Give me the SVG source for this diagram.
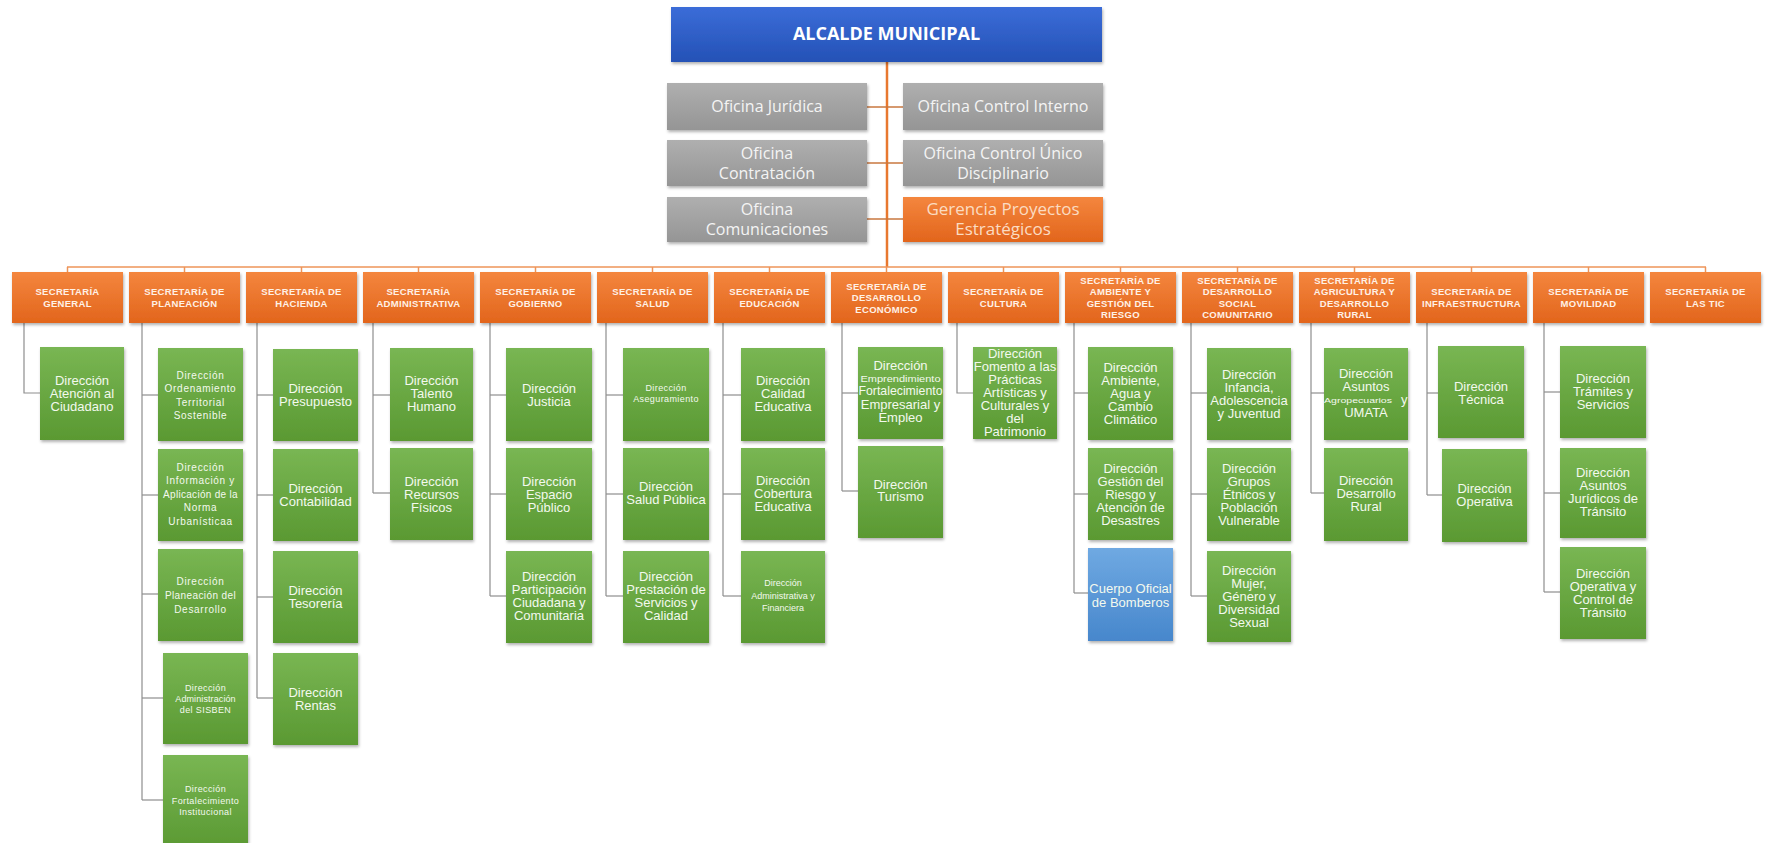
<svg xmlns="http://www.w3.org/2000/svg" width="1769" height="843" viewBox="0 0 1769 843">
<defs>
<linearGradient id="gBlue" x1="0" y1="0" x2="0" y2="1"><stop offset="0" stop-color="#3B6DD8"/><stop offset="1" stop-color="#2451B6"/></linearGradient>
<linearGradient id="gGrey" x1="0" y1="0" x2="0" y2="1"><stop offset="0" stop-color="#AFAFAF"/><stop offset="1" stop-color="#959595"/></linearGradient>
<linearGradient id="gOrange" x1="0" y1="0" x2="0" y2="1"><stop offset="0" stop-color="#F4863E"/><stop offset="1" stop-color="#E2651C"/></linearGradient>
<linearGradient id="gGreen" x1="0" y1="0" x2="0" y2="1"><stop offset="0" stop-color="#79B653"/><stop offset="1" stop-color="#5A9932"/></linearGradient>
<linearGradient id="gSky" x1="0" y1="0" x2="0" y2="1"><stop offset="0" stop-color="#6FA9E2"/><stop offset="1" stop-color="#4787CC"/></linearGradient>
<filter id="sh" x="-10%" y="-10%" width="130%" height="130%"><feDropShadow dx="1" dy="2" stdDeviation="1.5" flood-color="#000" flood-opacity="0.3"/></filter>
</defs>
<style>
rect{filter:url(#sh)}
.top rect{fill:url(#gBlue)}
.grey rect{fill:url(#gGrey)}
.orange rect{fill:url(#gOrange)}
.green rect{fill:url(#gGreen)}
.sky rect{fill:url(#gSky)}
text{font-family:"Liberation Sans",Arial,sans-serif;text-anchor:middle}
.top text{font-family:"Open Sans","Liberation Sans",sans-serif;font-weight:bold;font-size:18px;fill:#FFFFFF}
.grey text{font-family:"Open Sans","Liberation Sans",sans-serif;font-size:16px;fill:#F4F4F4}
.ger text{font-family:"Open Sans","Liberation Sans",sans-serif;font-size:17px;fill:#FBDCC2}
.sec text{font-weight:bold;font-size:9.5px;fill:#FFF1E6;letter-spacing:0.3px}
.green text,.sky text{font-size:13px;fill:#F3F9EE}
.green text.s10{font-size:10px;letter-spacing:0.7px}
.green text.s9{font-size:9px;letter-spacing:0.4px}
.conn line,.conn polyline{fill:none}
.trunk{stroke:#E8782F;stroke-width:2.5}
.oc{stroke:#C9773F;stroke-width:1.5}
.bus{stroke:#EE9459;stroke-width:1.5}
.gc{stroke:#8E8E8E;stroke-width:1.2}
</style>

<g id="connectors" class="conn">
<line class="trunk" x1="887" y1="62" x2="887" y2="267"/>
<line class="oc" x1="867" y1="107" x2="903" y2="107"/>
<line class="oc" x1="867" y1="163" x2="903" y2="163"/>
<line class="oc" x1="867" y1="219" x2="903" y2="219"/>
<line class="bus" x1="67" y1="267" x2="1706" y2="267"/>
<line class="bus" x1="67.5" y1="267" x2="67.5" y2="272"/>
<line class="bus" x1="184.5" y1="267" x2="184.5" y2="272"/>
<line class="bus" x1="301.5" y1="267" x2="301.5" y2="272"/>
<line class="bus" x1="418.5" y1="267" x2="418.5" y2="272"/>
<line class="bus" x1="535.5" y1="267" x2="535.5" y2="272"/>
<line class="bus" x1="652.5" y1="267" x2="652.5" y2="272"/>
<line class="bus" x1="769.5" y1="267" x2="769.5" y2="272"/>
<line class="bus" x1="886.5" y1="267" x2="886.5" y2="272"/>
<line class="bus" x1="1003.5" y1="267" x2="1003.5" y2="272"/>
<line class="bus" x1="1120.5" y1="267" x2="1120.5" y2="272"/>
<line class="bus" x1="1237.5" y1="267" x2="1237.5" y2="272"/>
<line class="bus" x1="1354.5" y1="267" x2="1354.5" y2="272"/>
<line class="bus" x1="1471.5" y1="267" x2="1471.5" y2="272"/>
<line class="bus" x1="1588.5" y1="267" x2="1588.5" y2="272"/>
<line class="bus" x1="1705.5" y1="267" x2="1705.5" y2="272"/>
<polyline class="gc" points="24,323 24,393 40,393"/>
<line class="gc" x1="142" y1="323" x2="142" y2="800"/>
<line class="gc" x1="142" y1="395" x2="158" y2="395"/>
<line class="gc" x1="142" y1="495" x2="158" y2="495"/>
<line class="gc" x1="142" y1="594" x2="158" y2="594"/>
<line class="gc" x1="142" y1="698" x2="163" y2="698"/>
<line class="gc" x1="142" y1="800" x2="163" y2="800"/>
<line class="gc" x1="257" y1="323" x2="257" y2="698"/>
<line class="gc" x1="257" y1="395" x2="273" y2="395"/>
<line class="gc" x1="257" y1="495" x2="273" y2="495"/>
<line class="gc" x1="257" y1="597" x2="273" y2="597"/>
<line class="gc" x1="257" y1="698" x2="273" y2="698"/>
<line class="gc" x1="373" y1="323" x2="373" y2="493"/>
<line class="gc" x1="373" y1="395" x2="390" y2="395"/>
<line class="gc" x1="373" y1="493" x2="390" y2="493"/>
<line class="gc" x1="490" y1="323" x2="490" y2="596"/>
<line class="gc" x1="490" y1="395" x2="506" y2="395"/>
<line class="gc" x1="490" y1="494" x2="506" y2="494"/>
<line class="gc" x1="490" y1="596" x2="506" y2="596"/>
<line class="gc" x1="606" y1="323" x2="606" y2="596"/>
<line class="gc" x1="606" y1="395" x2="623" y2="395"/>
<line class="gc" x1="606" y1="494" x2="623" y2="494"/>
<line class="gc" x1="606" y1="596" x2="623" y2="596"/>
<line class="gc" x1="723" y1="323" x2="723" y2="596"/>
<line class="gc" x1="723" y1="395" x2="741" y2="395"/>
<line class="gc" x1="723" y1="494" x2="741" y2="494"/>
<line class="gc" x1="723" y1="596" x2="741" y2="596"/>
<line class="gc" x1="842" y1="323" x2="842" y2="491"/>
<line class="gc" x1="842" y1="393" x2="858" y2="393"/>
<line class="gc" x1="842" y1="491" x2="858" y2="491"/>
<polyline class="gc" points="957,323 957,393 973,393"/>
<line class="gc" x1="1074" y1="323" x2="1074" y2="593"/>
<line class="gc" x1="1074" y1="393" x2="1088" y2="393"/>
<line class="gc" x1="1074" y1="494" x2="1088" y2="494"/>
<line class="gc" x1="1074" y1="593" x2="1088" y2="593"/>
<line class="gc" x1="1191" y1="323" x2="1191" y2="596"/>
<line class="gc" x1="1191" y1="393" x2="1207" y2="393"/>
<line class="gc" x1="1191" y1="494" x2="1207" y2="494"/>
<line class="gc" x1="1191" y1="596" x2="1207" y2="596"/>
<line class="gc" x1="1311" y1="323" x2="1311" y2="493"/>
<line class="gc" x1="1311" y1="393" x2="1324" y2="393"/>
<line class="gc" x1="1311" y1="493" x2="1324" y2="493"/>
<line class="gc" x1="1427" y1="323" x2="1427" y2="495"/>
<line class="gc" x1="1427" y1="393" x2="1438" y2="393"/>
<line class="gc" x1="1427" y1="495" x2="1442" y2="495"/>
<line class="gc" x1="1544" y1="323" x2="1544" y2="592"/>
<line class="gc" x1="1544" y1="392" x2="1560" y2="392"/>
<line class="gc" x1="1544" y1="493" x2="1560" y2="493"/>
<line class="gc" x1="1544" y1="592" x2="1560" y2="592"/>
</g>

<g id="alcalde" class="top"><rect x="671" y="7" width="431" height="55"/><text x="886.5" y="40">ALCALDE MUNICIPAL</text></g>

<g id="of-juridica" class="grey"><rect x="667" y="83" width="200" height="47"/><text x="767" y="112">Oficina Jurídica</text></g>
<g id="of-control-interno" class="grey"><rect x="903" y="83" width="200" height="47"/><text x="1003" y="112">Oficina Control Interno</text></g>
<g id="of-contratacion" class="grey"><rect x="667" y="140" width="200" height="46"/><text x="767" y="159">Oficina</text><text x="767" y="179">Contratación</text></g>
<g id="of-control-disciplinario" class="grey"><rect x="903" y="140" width="200" height="46"/><text x="1003" y="159">Oficina Control Único</text><text x="1003" y="179">Disciplinario</text></g>
<g id="of-comunicaciones" class="grey"><rect x="667" y="197" width="200" height="45"/><text x="767" y="215">Oficina</text><text x="767" y="235">Comunicaciones</text></g>
<g id="gerencia" class="orange ger"><rect x="903" y="197" width="200" height="45"/><text x="1003" y="215">Gerencia Proyectos</text><text x="1003" y="235">Estratégicos</text></g>

<g id="sec-general" class="orange sec"><rect x="12" y="272" width="111" height="51"/><text x="67.5" y="294.5">SECRETARÍA</text><text x="67.5" y="306.5">GENERAL</text></g>
<g id="sec-planeacion" class="orange sec"><rect x="129" y="272" width="111" height="51"/><text x="184.5" y="294.5">SECRETARÍA DE</text><text x="184.5" y="306.5">PLANEACIÓN</text></g>
<g id="sec-hacienda" class="orange sec"><rect x="246" y="272" width="111" height="51"/><text x="301.5" y="294.5">SECRETARÍA DE</text><text x="301.5" y="306.5">HACIENDA</text></g>
<g id="sec-administrativa" class="orange sec"><rect x="363" y="272" width="111" height="51"/><text x="418.5" y="294.5">SECRETARÍA</text><text x="418.5" y="306.5">ADMINISTRATIVA</text></g>
<g id="sec-gobierno" class="orange sec"><rect x="480" y="272" width="111" height="51"/><text x="535.5" y="294.5">SECRETARÍA DE</text><text x="535.5" y="306.5">GOBIERNO</text></g>
<g id="sec-salud" class="orange sec"><rect x="597" y="272" width="111" height="51"/><text x="652.5" y="294.5">SECRETARÍA DE</text><text x="652.5" y="306.5">SALUD</text></g>
<g id="sec-educacion" class="orange sec"><rect x="714" y="272" width="111" height="51"/><text x="769.5" y="294.5">SECRETARÍA DE</text><text x="769.5" y="306.5">EDUCACIÓN</text></g>
<g id="sec-des-economico" class="orange sec"><rect x="831" y="272" width="111" height="51"/><text x="886.5" y="289.5">SECRETARÍA DE</text><text x="886.5" y="301">DESARROLLO</text><text x="886.5" y="312.5">ECONÓMICO</text></g>
<g id="sec-cultura" class="orange sec"><rect x="948" y="272" width="111" height="51"/><text x="1003.5" y="294.5">SECRETARÍA DE</text><text x="1003.5" y="306.5">CULTURA</text></g>
<g id="sec-ambiente" class="orange sec"><rect x="1065" y="272" width="111" height="51"/><text x="1120.5" y="283.5">SECRETARÍA DE</text><text x="1120.5" y="295">AMBIENTE Y</text><text x="1120.5" y="306.5">GESTIÓN DEL</text><text x="1120.5" y="318">RIESGO</text></g>
<g id="sec-des-social" class="orange sec"><rect x="1182" y="272" width="111" height="51"/><text x="1237.5" y="283.5">SECRETARÍA DE</text><text x="1237.5" y="295">DESARROLLO</text><text x="1237.5" y="306.5">SOCIAL</text><text x="1237.5" y="318">COMUNITARIO</text></g>
<g id="sec-agricultura" class="orange sec"><rect x="1299" y="272" width="111" height="51"/><text x="1354.5" y="283.5">SECRETARÍA DE</text><text x="1354.5" y="295">AGRICULTURA Y</text><text x="1354.5" y="306.5">DESARROLLO</text><text x="1354.5" y="318">RURAL</text></g>
<g id="sec-infraestructura" class="orange sec"><rect x="1416" y="272" width="111" height="51"/><text x="1471.5" y="294.5">SECRETARÍA DE</text><text x="1471.5" y="306.5">INFRAESTRUCTURA</text></g>
<g id="sec-movilidad" class="orange sec"><rect x="1533" y="272" width="111" height="51"/><text x="1588.5" y="294.5">SECRETARÍA DE</text><text x="1588.5" y="306.5">MOVILIDAD</text></g>
<g id="sec-tic" class="orange sec"><rect x="1650" y="272" width="111" height="51"/><text x="1705.5" y="294.5">SECRETARÍA DE</text><text x="1705.5" y="306.5">LAS TIC</text></g>

<g id="dir-atencion" class="green"><rect x="40" y="347" width="84" height="93"/><text x="82" y="384.5">Dirección</text><text x="82" y="397.5">Atención al</text><text x="82" y="410.5">Ciudadano</text></g>
<g id="dir-ordenamiento" class="green"><rect x="158" y="348" width="85" height="93"/><text class="s10" x="200.5" y="378.5">Dirección</text><text class="s10" x="200.5" y="392">Ordenamiento</text><text class="s10" x="200.5" y="405.5">Territorial</text><text class="s10" x="200.5" y="419">Sostenible</text></g>
<g id="dir-informacion" class="green"><rect x="158" y="449" width="85" height="92"/><text class="s10" x="200.5" y="470.5">Dirección</text><text class="s10" x="200.5" y="484">Información y</text><text class="s10" x="200.5" y="497.5" style="letter-spacing:0.3px">Aplicación de la</text><text class="s10" x="200.5" y="511">Norma</text><text class="s10" x="200.5" y="524.5">Urbanísticaa</text></g>
<g id="dir-planeacion" class="green"><rect x="158" y="549" width="85" height="92"/><text class="s10" x="200.5" y="584.5">Dirección</text><text class="s10" x="200.5" y="598.5" style="letter-spacing:0.4px">Planeación del</text><text class="s10" x="200.5" y="612.5">Desarrollo</text></g>
<g id="dir-sisben" class="green"><rect x="163" y="653" width="85" height="91"/><text class="s9" x="205.5" y="691">Dirección</text><text class="s9" x="205.5" y="702" style="letter-spacing:0.1px">Administración</text><text class="s9" x="205.5" y="713">del SISBEN</text></g>
<g id="dir-fortalecimiento" class="green"><rect x="163" y="755" width="85" height="95"/><text class="s9" x="205.5" y="792">Dirección</text><text class="s9" x="205.5" y="803.5">Fortalecimiento</text><text class="s9" x="205.5" y="815">Institucional</text></g>
<g id="dir-presupuesto" class="green"><rect x="273" y="349" width="85" height="92"/><text x="315.5" y="392.5">Dirección</text><text x="315.5" y="405.5">Presupuesto</text></g>
<g id="dir-contabilidad" class="green"><rect x="273" y="449" width="85" height="92"/><text x="315.5" y="492.5">Dirección</text><text x="315.5" y="505.5">Contabilidad</text></g>
<g id="dir-tesoreria" class="green"><rect x="273" y="551" width="85" height="92"/><text x="315.5" y="594.5">Dirección</text><text x="315.5" y="607.5">Tesorería</text></g>
<g id="dir-rentas" class="green"><rect x="273" y="653" width="85" height="92"/><text x="315.5" y="696.5">Dirección</text><text x="315.5" y="709.5">Rentas</text></g>
<g id="dir-talento" class="green"><rect x="390" y="348" width="83" height="93"/><text x="431.5" y="384.5">Dirección</text><text x="431.5" y="397.5">Talento</text><text x="431.5" y="410.5">Humano</text></g>
<g id="dir-recursos" class="green"><rect x="390" y="448" width="83" height="92"/><text x="431.5" y="485.5">Dirección</text><text x="431.5" y="498.5">Recursos</text><text x="431.5" y="511.5">Físicos</text></g>
<g id="dir-justicia" class="green"><rect x="506" y="348" width="86" height="93"/><text x="549" y="392.5">Dirección</text><text x="549" y="405.5">Justicia</text></g>
<g id="dir-espacio" class="green"><rect x="506" y="448" width="86" height="92"/><text x="549" y="485.5">Dirección</text><text x="549" y="498.5">Espacio</text><text x="549" y="511.5">Público</text></g>
<g id="dir-participacion" class="green"><rect x="506" y="551" width="86" height="92"/><text x="549" y="581">Dirección</text><text x="549" y="594">Participación</text><text x="549" y="607">Ciudadana  y</text><text x="549" y="620">Comunitaria</text></g>
<g id="dir-aseguramiento" class="green"><rect x="623" y="348" width="86" height="93"/><text class="s9" x="666" y="391">Dirección</text><text class="s9" x="666" y="402">Aseguramiento</text></g>
<g id="dir-salud-publica" class="green"><rect x="623" y="448" width="86" height="92"/><text x="666" y="490.5">Dirección</text><text x="666" y="503.5">Salud Pública</text></g>
<g id="dir-prestacion" class="green"><rect x="623" y="551" width="86" height="92"/><text x="666" y="581">Dirección</text><text x="666" y="594">Prestación de</text><text x="666" y="607">Servicios y</text><text x="666" y="620">Calidad</text></g>
<g id="dir-calidad" class="green"><rect x="741" y="348" width="84" height="93"/><text x="783" y="384.5">Dirección</text><text x="783" y="397.5">Calidad</text><text x="783" y="410.5">Educativa</text></g>
<g id="dir-cobertura" class="green"><rect x="741" y="448" width="84" height="92"/><text x="783" y="484.5">Dirección</text><text x="783" y="497.5">Cobertura</text><text x="783" y="510.5">Educativa</text></g>
<g id="dir-adm-financiera" class="green"><rect x="741" y="551" width="84" height="92"/><text class="s9" x="783" y="586" style="letter-spacing:0">Dirección</text><text class="s9" x="783" y="598.5" style="letter-spacing:0">Administrativa y</text><text class="s9" x="783" y="611" style="letter-spacing:0">Financiera</text></g>
<g id="dir-emprendimiento" class="green"><rect x="858" y="347" width="85" height="92"/><text x="900.5" y="370">Dirección</text><text x="900.5" y="381.5" style="font-size:8.5px" textLength="80" lengthAdjust="spacingAndGlyphs">Emprendimiento</text><text x="900.5" y="395" textLength="84" lengthAdjust="spacingAndGlyphs">Fortalecimiento</text><text x="900.5" y="408.5">Empresarial y</text><text x="900.5" y="422">Empleo</text></g>
<g id="dir-turismo" class="green"><rect x="858" y="446" width="85" height="92"/><text x="900.5" y="488.5">Dirección</text><text x="900.5" y="500.5">Turismo</text></g>
<g id="dir-fomento" class="green"><rect x="973" y="347" width="84" height="92"/><text x="1015" y="357.5">Dirección</text><text x="1015" y="370.5">Fomento a las</text><text x="1015" y="383.5">Prácticas</text><text x="1015" y="396.5">Artísticas y</text><text x="1015" y="409.5">Culturales y</text><text x="1015" y="422.5">del</text><text x="1015" y="435.5">Patrimonio</text></g>
<g id="dir-ambiente" class="green"><rect x="1088" y="347" width="85" height="93"/><text x="1130.5" y="371.5">Dirección</text><text x="1130.5" y="384.5">Ambiente,</text><text x="1130.5" y="397.5">Agua y</text><text x="1130.5" y="410.5">Cambio</text><text x="1130.5" y="423.5">Climático</text></g>
<g id="dir-gestion-riesgo" class="green"><rect x="1088" y="448" width="85" height="92"/><text x="1130.5" y="472.5">Dirección</text><text x="1130.5" y="485.5">Gestión del</text><text x="1130.5" y="498.5">Riesgo y</text><text x="1130.5" y="511.5">Atención de</text><text x="1130.5" y="524.5">Desastres</text></g>
<g id="cuerpo-bomberos" class="sky"><rect x="1088" y="548" width="85" height="93"/><text x="1130.5" y="592.5">Cuerpo Oficial</text><text x="1130.5" y="606.5">de Bomberos</text></g>
<g id="dir-infancia" class="green"><rect x="1207" y="348" width="84" height="92"/><text x="1249" y="378.5">Dirección</text><text x="1249" y="391.5">Infancia,</text><text x="1249" y="404.5">Adolescencia</text><text x="1249" y="417.5">y Juventud</text></g>
<g id="dir-grupos-etnicos" class="green"><rect x="1207" y="448" width="84" height="93"/><text x="1249" y="472.5">Dirección</text><text x="1249" y="485.5">Grupos</text><text x="1249" y="498.5">Étnicos y</text><text x="1249" y="511.5">Población</text><text x="1249" y="524.5">Vulnerable</text></g>
<g id="dir-mujer" class="green"><rect x="1207" y="551" width="84" height="91"/><text x="1249" y="574.5">Dirección</text><text x="1249" y="587.5">Mujer,</text><text x="1249" y="600.5">Género y</text><text x="1249" y="613.5">Diversidad</text><text x="1249" y="626.5">Sexual</text></g>
<g id="dir-asuntos-agro" class="green"><rect x="1324" y="348" width="84" height="92"/><text x="1366" y="377.5">Dirección</text><text x="1366" y="390.5">Asuntos</text><text x="1324" y="403" style="text-anchor:start;font-size:8px" textLength="68" lengthAdjust="spacingAndGlyphs">Agropecuarios</text><text x="1401" y="403.5" style="text-anchor:start">y</text><text x="1366" y="416.5">UMATA</text></g>
<g id="dir-des-rural" class="green"><rect x="1324" y="448" width="84" height="93"/><text x="1366" y="484.5">Dirección</text><text x="1366" y="497.5">Desarrollo</text><text x="1366" y="510.5">Rural</text></g>
<g id="dir-tecnica" class="green"><rect x="1438" y="346" width="86" height="92"/><text x="1481" y="390.5">Dirección</text><text x="1481" y="403.5">Técnica</text></g>
<g id="dir-operativa" class="green"><rect x="1442" y="449" width="85" height="93"/><text x="1484.5" y="492.5">Dirección</text><text x="1484.5" y="505.5">Operativa</text></g>
<g id="dir-tramites" class="green"><rect x="1560" y="346" width="86" height="92"/><text x="1603" y="382.5">Dirección</text><text x="1603" y="395.5">Trámites y</text><text x="1603" y="408.5">Servicios</text></g>
<g id="dir-juridicos-transito" class="green"><rect x="1560" y="448" width="86" height="90"/><text x="1603" y="476.5">Dirección</text><text x="1603" y="489.5">Asuntos</text><text x="1603" y="502.5">Jurídicos de</text><text x="1603" y="515.5">Tránsito</text></g>
<g id="dir-operativa-transito" class="green"><rect x="1560" y="547" width="86" height="92"/><text x="1603" y="577.5">Dirección</text><text x="1603" y="590.5">Operativa y</text><text x="1603" y="603.5">Control de</text><text x="1603" y="616.5">Tránsito</text></g>
</svg>
